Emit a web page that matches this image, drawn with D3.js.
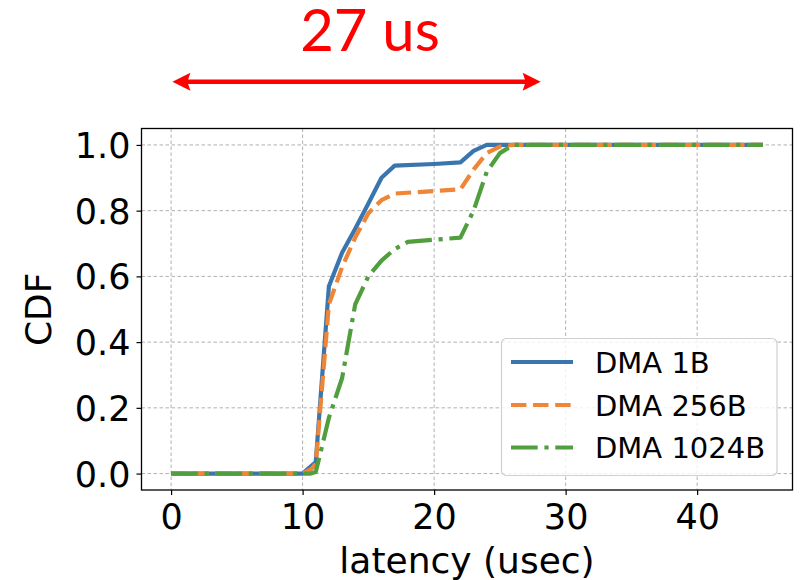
<!DOCTYPE html>
<html>
<head>
<meta charset="utf-8">
<script src="https://cdn.jsdelivr.net/npm/d3@7"></script>
<style>
  html, body { margin: 0; padding: 0; background: #fff; }
  svg { display: block; }
</style>
</head>
<body>
<svg id="chart" width="800" height="580"></svg>
<script>
// ---- data ----
const seriesNames = ["DMA 1B", "DMA 256B", "DMA 1024B"];
const seriesColors = ["#3a75b0", "#ef8536", "#519e3e"];
const dma1B_x = [0, 10, 11, 12, 13, 14, 15, 16, 17, 20, 22, 23, 24, 30, 45];
const dma1B_y = [0, 0, 0.035, 0.57, 0.672, 0.745, 0.822, 0.90, 0.937, 0.942, 0.947, 0.982, 1.0, 1.0, 1.0];
const dma256B_x = [0, 10, 10.7, 11, 12, 13, 14, 15, 16, 17, 22, 23, 24, 25, 26, 30, 45];
const dma256B_y = [0, 0, 0.015, 0.03, 0.515, 0.628, 0.718, 0.792, 0.832, 0.852, 0.865, 0.925, 0.975, 0.995, 1.0, 1.0, 1.0];
const dma1024B_x = [0, 10, 10.6, 11, 11.4, 12, 13, 14, 15, 16, 17, 18, 22, 23, 24, 25, 26, 30, 45];
const dma1024B_y = [0, 0, 0, 0.005, 0.07, 0.17, 0.29, 0.515, 0.60, 0.648, 0.683, 0.705, 0.718, 0.80, 0.918, 0.975, 1.0, 1.0, 1.0];
const xTicks = [0, 10, 20, 30, 40];
const yTicks = [0.0, 0.2, 0.4, 0.6, 0.8, 1.0];
const xLabel = "latency (usec)";
const yLabel = "CDF";
const annotationText = "27 us";
const annotationSpan = [0.1, 28.1];

const seriesX = [dma1B_x, dma256B_x, dma1024B_x];
const seriesY = [dma1B_y, dma256B_y, dma1024B_y];
const dashes = [null, "15.4,6.7", "26.7,6.7,4.2,6.7"];

// ---- layout ----
const svg = d3.select("#chart");
const L = 141.5, R = 792.5, T = 128.5, B = 490;
const x = d3.scaleLinear().domain([-2.25, 47.25]).range([L, R]);
const y = d3.scaleLinear().domain([-0.05, 1.05]).range([B, T]);

// grid
const grid = svg.append("g");
grid.selectAll("line.gx").data(xTicks).enter().append("line")
  .attr("x1", d => x(d)).attr("x2", d => x(d)).attr("y1", T).attr("y2", B)
  .attr("stroke", "#b0b0b0").attr("stroke-width", 1).attr("stroke-dasharray", "3.5,2.5");
grid.selectAll("line.gy").data(yTicks).enter().append("line")
  .attr("y1", d => y(d)).attr("y2", d => y(d)).attr("x1", L).attr("x2", R)
  .attr("stroke", "#b0b0b0").attr("stroke-width", 1).attr("stroke-dasharray", "3.5,2.5");

// lines
const lineGen = d3.line().x(d => x(d[0])).y(d => y(d[1]));
seriesNames.forEach((name, i) => {
  const pts = seriesX[i].map((v, j) => [v, seriesY[i][j]]);
  const p = svg.append("path").datum(pts)
    .attr("d", lineGen)
    .attr("fill", "none")
    .attr("stroke", seriesColors[i])
    .attr("stroke-width", 4.2)
    .attr("stroke-linejoin", "round");
  if (dashes[i]) p.attr("stroke-dasharray", dashes[i]);
});

// axes
const xAxis = d3.axisBottom(x).tickValues(xTicks).tickFormat(d3.format("d")).tickSize(5).tickPadding(6);
const yAxis = d3.axisLeft(y).tickValues(yTicks).tickFormat(d3.format(".1f")).tickSize(5).tickPadding(6);
const gx = svg.append("g").attr("transform", `translate(0,${B})`).call(xAxis);
const gy = svg.append("g").attr("transform", `translate(${L},0)`).call(yAxis);
[gx, gy].forEach(g => {
  g.select(".domain").remove();
  g.selectAll(".tick line").attr("stroke", "#000").attr("stroke-width", 1.2);
  g.selectAll(".tick text").attr("font-family", "DejaVu Sans").attr("font-size", 35).attr("fill", "#000");
});
gx.selectAll(".tick text").attr("dy", "0.8em");
gy.selectAll(".tick text").attr("dy", "0.36em");

// frame
svg.append("rect").attr("x", L).attr("y", T).attr("width", R - L).attr("height", B - T)
  .attr("fill", "none").attr("stroke", "#000").attr("stroke-width", 1.3);

// axis labels
svg.append("text").attr("x", (L + R) / 2).attr("y", 573)
  .attr("text-anchor", "middle").attr("font-family", "DejaVu Sans").attr("font-size", 36)
  .text(xLabel);
svg.append("text").attr("transform", `translate(51,${(T + B) / 2}) rotate(-90)`)
  .attr("text-anchor", "middle").attr("font-family", "DejaVu Sans").attr("font-size", 36)
  .text(yLabel);

// legend
const lg = svg.append("g");
lg.append("rect").attr("x", 501.5).attr("y", 338.5).attr("width", 275.5).attr("height", 137)
  .attr("rx", 5).attr("fill", "#fff").attr("fill-opacity", 0.8)
  .attr("stroke", "#d0d0d0").attr("stroke-width", 1.2);
const rowY = [362, 405, 447.5];
seriesNames.forEach((name, i) => {
  const ln = lg.append("line").attr("x1", 511).attr("x2", 573).attr("y1", rowY[i]).attr("y2", rowY[i])
    .attr("stroke", seriesColors[i]).attr("stroke-width", 4.2);
  if (dashes[i]) ln.attr("stroke-dasharray", dashes[i]);
  lg.append("text").attr("x", 595).attr("y", rowY[i] + 10.5)
    .attr("font-family", "DejaVu Sans").attr("font-size", 29).attr("fill", "#000")
    .text(name);
});

// annotation
const ax0 = x(annotationSpan[0]), ax1 = x(annotationSpan[1]), ay = 81.7;
svg.append("line").attr("x1", ax0 + 12).attr("x2", ax1 - 12).attr("y1", ay).attr("y2", ay)
  .attr("stroke", "#ff0000").attr("stroke-width", 4.5);
svg.append("path").attr("d", `M${ax0},${ay} L${ax0 + 18},${ay - 9} L${ax0 + 15},${ay} L${ax0 + 18},${ay + 9} Z`)
  .attr("fill", "#ff0000");
svg.append("path").attr("d", `M${ax1},${ay} L${ax1 - 18},${ay - 9} L${ax1 - 15},${ay} L${ax1 - 18},${ay + 9} Z`)
  .attr("fill", "#ff0000");
svg.append("text").attr("x", 370).attr("y", 51).attr("text-anchor", "middle")
  .attr("font-family", "Lato").attr("font-size", 58).attr("fill", "#ff0000")
  .text(annotationText);
</script>
</body>
</html>
